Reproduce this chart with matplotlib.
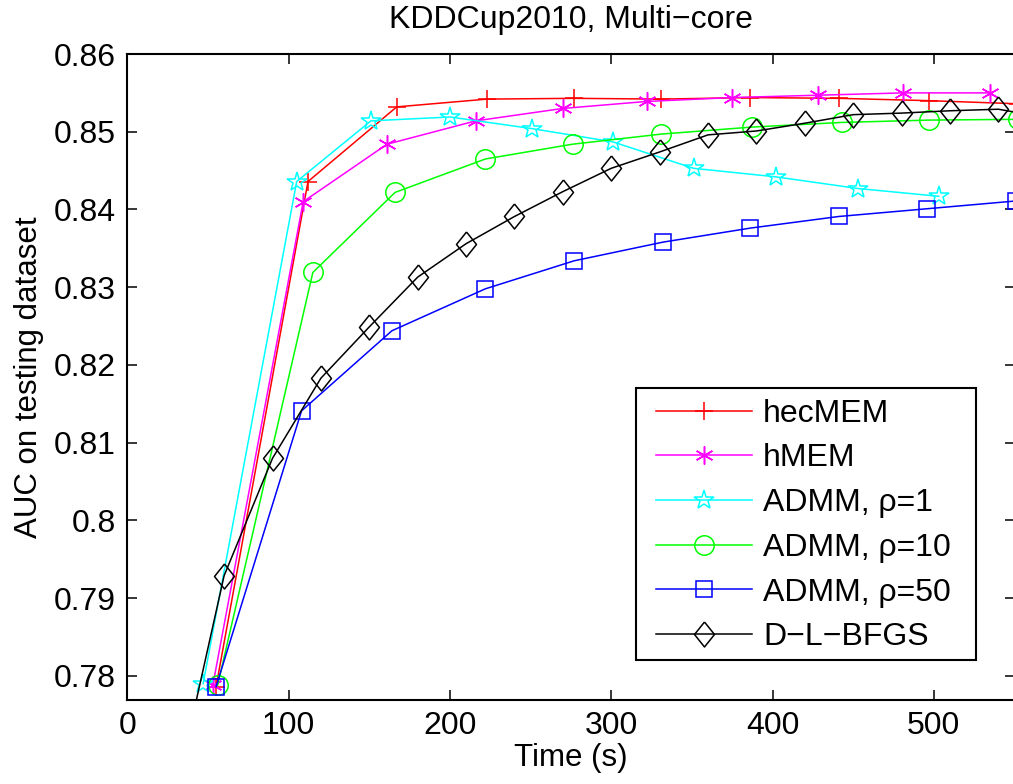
import numpy as np
import matplotlib
matplotlib.use("Agg")
import matplotlib.pyplot as plt
from matplotlib.patches import Rectangle

plt.rcParams['font.family'] = ['Liberation Sans', 'DejaVu Sans']
plt.rcParams['font.size'] = 22

# Datos (tiempo en s, AUC)
t_hec = [55, 112, 167, 223, 277, 331, 386, 441, 497, 552]
auc_hec = [0.7786, 0.8436, 0.8532, 0.8542, 0.8543, 0.8542, 0.8544, 0.8543, 0.8540, 0.8536]

t_hmem = [53, 109, 161, 216, 270, 322, 375, 428, 481, 535]
auc_hmem = [0.7788, 0.8410, 0.8484, 0.8514, 0.8530, 0.8539, 0.8544, 0.8547, 0.8550, 0.8550]

t_admm1 = [47, 105, 151, 200, 251, 301, 351, 402, 453, 503]
auc_admm1 = [0.7790, 0.8436, 0.8514, 0.8519, 0.8504, 0.8487, 0.8453, 0.8442, 0.8427, 0.8417]

t_admm10 = [56, 115, 166, 222, 276, 331, 387, 443, 497, 552]
auc_admm10 = [0.7788, 0.8319, 0.8422, 0.8465, 0.8484, 0.8497, 0.8506, 0.8512, 0.8515, 0.8516]

t_admm50 = [55, 108, 164, 222, 277, 332, 386, 441, 496, 551]
auc_admm50 = [0.7786, 0.8141, 0.8244, 0.8298, 0.8334, 0.8358, 0.8376, 0.8391, 0.8401, 0.8411]

t_dl = [30, 60, 90, 120, 150, 180, 210, 240, 270, 300, 330, 360, 390, 420, 450, 480, 510, 540, 570]
auc_dl = [0.765, 0.7929, 0.8080, 0.8183, 0.8249, 0.8313, 0.8356, 0.8391, 0.8423, 0.8453,
          0.8474, 0.8496, 0.8501, 0.8511, 0.8522, 0.8524, 0.8527, 0.8529, 0.8518]

labels = ['hecMEM', 'hMEM', 'ADMM, ρ=1', 'ADMM, ρ=10', 'ADMM, ρ=50', 'D\u2212L\u2212BFGS']

# Marcador tipo rombo de MATLAB (más alto que ancho)
diamond = [(0, 1), (0.8, 0), (0, -1), (-0.8, 0), (0, 1)]

fig = plt.figure(figsize=(10.13, 7.84), dpi=100)
ax = fig.add_axes([0.1257, 0.1071, 0.8758, 0.824])

lw = 1.1
mew = 1.1
ax.plot(t_hec, auc_hec, color='#ff0000', lw=lw, marker='+', ms=13, mew=mew, label=labels[0])
ax.plot(t_hmem, auc_hmem, color='#ff00ff', lw=lw, marker=(6, 2, 0), ms=13, mew=mew, label=labels[1])
ax.plot(t_admm1, auc_admm1, color='#00ffff', lw=lw, marker='*', ms=15, mew=mew,
        markerfacecolor='none', label=labels[2])
ax.plot(t_admm10, auc_admm10, color='#00ff00', lw=lw, marker='o', ms=14, mew=mew,
        markerfacecolor='none', label=labels[3])
ax.plot(t_admm50, auc_admm50, color='#0000ff', lw=lw, marker='s', ms=11, mew=mew,
        markerfacecolor='none', label=labels[4])
ax.plot(t_dl, auc_dl, color='black', lw=lw, marker=diamond, ms=18, mew=mew,
        markerfacecolor='none', label=labels[5])

ax.set_xlim(0, 550)
ax.set_ylim(0.7769, 0.86)
ax.set_xticks([0, 100, 200, 300, 400, 500])
ax.set_yticks([0.78, 0.79, 0.8, 0.81, 0.82, 0.83, 0.84, 0.85, 0.86])
ax.set_yticklabels(['0.78', '0.79', '0.8', '0.81', '0.82', '0.83', '0.84', '0.85', '0.86'])
ax.tick_params(direction='in', length=7, width=1.1, top=True, right=True, pad=8, labelsize=23)
for sp in ax.spines.values():
    sp.set_linewidth(1.5)

ax.set_xlabel('Time (s)', fontsize=22.5, labelpad=1)
ax.set_ylabel('AUC on testing dataset', fontsize=22.5, labelpad=7)
ax.set_title('KDDCup2010, Multi\u2212core', fontsize=23, pad=19)

# Caja de la leyenda (estilo MATLAB, con más margen a la derecha)
box = Rectangle((0.6278, 0.1582), 0.3356, 0.3469, transform=fig.transFigure,
                facecolor='white', edgecolor='black', linewidth=1.5, zorder=4, clip_on=False)
ax.add_patch(box)

leg = ax.legend(loc='center left', bbox_to_anchor=(0.6476, 0.3297), bbox_transform=fig.transFigure,
                borderaxespad=0, fontsize=23, handlelength=3.0, handletextpad=0.35,
                labelspacing=0.46, borderpad=0, frameon=False)
leg.set_zorder(5)

fig.savefig('out.png', dpi=100)
